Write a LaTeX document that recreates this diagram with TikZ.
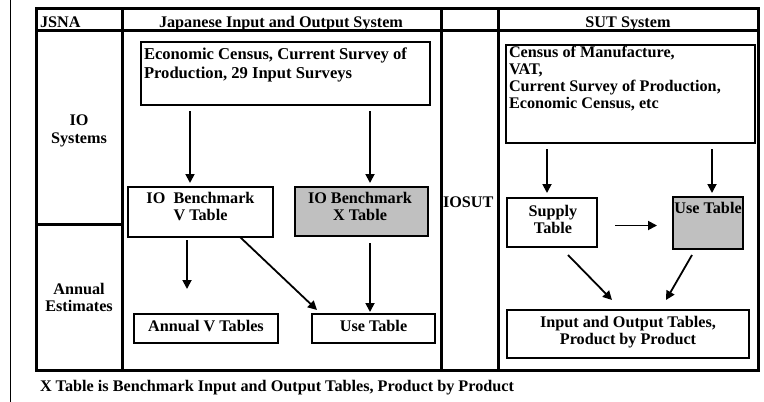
\documentclass[tikz,border=0pt]{standalone}
\usepackage{fontspec}
\setmainfont{Liberation Serif}
\usetikzlibrary{arrows.meta,calc}
\definecolor{boxgray}{RGB}{192,192,192}
\begin{document}
\begin{tikzpicture}[x=1pt,y=-1pt,
  every node/.style={font=\fontsize{16.2}{17}\selectfont\bfseries, inner sep=0pt, outer sep=0pt},
  frame/.style={line width=3pt},
  tbox/.style={draw, line width=1.6pt, rectangle, anchor=north west},
  gbox/.style={tbox, fill=boxgray},
  arr/.style={line width=1.8pt, -{Triangle[length=9pt,width=9pt]}},
]
\useasboundingbox (0,0) rectangle (764,402);
\draw[line width=1pt] (10,0) -- (10,402);
% frame
\draw[frame] (36,8) rectangle (758,370);
\draw[frame] (36,30) -- (758,30);
\draw[frame] (122,8) -- (122,370);
\draw[frame] (441,8) -- (441,370);
\draw[frame] (498,8) -- (498,370);
\draw[frame] (36,224) -- (122,224);
% header texts
\node[anchor=base west] (hjsna) at (40,27.5) {JSNA};
\node[anchor=base] (hjap) at (281,27.5) {Japanese Input and Output System};
\node[anchor=base] (hsut) at (628,27.5) {SUT System};
\node[anchor=north, align=center, font=\fontsize{16.2}{18}\selectfont\bfseries] (lio) at (79,115) {IO\\Systems};
\node[anchor=north, align=center] (lann) at (79,283) {Annual\\Estimates};
\node[anchor=base west] (iosut) at (443,207.5) {IOSUT};
\node[anchor=base west] (foot) at (40,391.5) {X Table is Benchmark Input and Output Tables, Product by Product};
% boxes
\node[tbox, minimum width=289, minimum height=63] (econ) at (141,42) {};
\node[anchor=north west, align=left, font=\fontsize{16.6}{19}\selectfont\bfseries] (econt) at (144,47.5) {Economic Census, Current Survey of\\Production, 29 Input Surveys};
\node[tbox, minimum width=145, minimum height=50] (vt) at (128,187) {};
\node[anchor=north, align=center] (vtt) at (200.5,192.5) {IO\ \ Benchmark\\V Table};
\node[gbox, minimum width=133, minimum height=49] (xt) at (295,187) {};
\node[anchor=north, align=center] (xtt) at (360,192.5) {IO Benchmark\\X Table};
\node[tbox, minimum width=144, minimum height=29] (avt) at (134,314) {};
\node[anchor=base] (avtt) at (206,331) {Annual V Tables};
\node[tbox, minimum width=123, minimum height=29] (use1) at (312,314) {};
\node[anchor=base] (use1t) at (373.5,331) {Use Table};
\node[tbox, minimum width=249, minimum height=98] (cens) at (506,45) {};
\node[anchor=north west, align=left, font=\fontsize{16.2}{16.7}\selectfont\bfseries] (censt) at (509,46.5) {Census of Manufacture,\\VAT,\\Current Survey of Production,\\Economic Census, etc};
\node[tbox, minimum width=90, minimum height=49] (sup) at (507,198) {};
\node[anchor=north, align=center] (supt) at (553,205.5) {Supply\\Table};
\node[gbox, minimum width=70, minimum height=52] (use2) at (673,197) {};
\node[anchor=north] (use2t) at (708,202.5) {Use Table};
\node[tbox, minimum width=242, minimum height=48] (io) at (507,310) {};
\node[anchor=north, align=center, font=\fontsize{16.2}{16.5}\selectfont\bfseries] (iot) at (628,316.5) {Input and Output Tables,\\Product by Product};
% arrows
\draw[arr, shorten <=6pt, shorten >=4pt] ([xshift=-10.5pt]vt.north |- econ.south) -- ([xshift=-10.5pt]vt.north);
\draw[arr, shorten <=6pt, shorten >=4pt] ([xshift=8.5pt]xt.north |- econ.south) -- ([xshift=8.5pt]xt.north);
\draw[arr, shorten <=3pt, shorten >=25pt] ([xshift=-13.5pt]vt.south) -- ([xshift=-13.5pt]vt.south |- avt.north);
\draw[arr] ([xshift=39.5pt]vt.south) -- ([xshift=5pt,yshift=4pt]use1.north west);
\draw[arr, shorten <=7pt, shorten >=2pt] ([xshift=8.5pt]xt.south) -- ([xshift=8.5pt]xt.south |- use1.north);
\draw[arr, shorten <=6pt, shorten >=5pt] ([xshift=-5pt]sup.north |- cens.south) -- ([xshift=-5pt]sup.north);
\draw[arr, shorten <=6pt, shorten >=4pt] ([xshift=4pt]use2.north |- cens.south) -- ([xshift=4pt]use2.north);
\draw[arr, shorten <=18pt, shorten >=16pt] ([yshift=-3pt]sup.east) -- ([yshift=-3pt]sup.east -| use2.west);
\draw[arr] ([xshift=16pt,yshift=-8pt]sup.south) -- ([xshift=-16pt,yshift=10pt]io.north);
\draw[arr] ([xshift=-16pt,yshift=-6pt]use2.south) -- ([xshift=38pt,yshift=10pt]io.north);
\end{tikzpicture}
\end{document}
